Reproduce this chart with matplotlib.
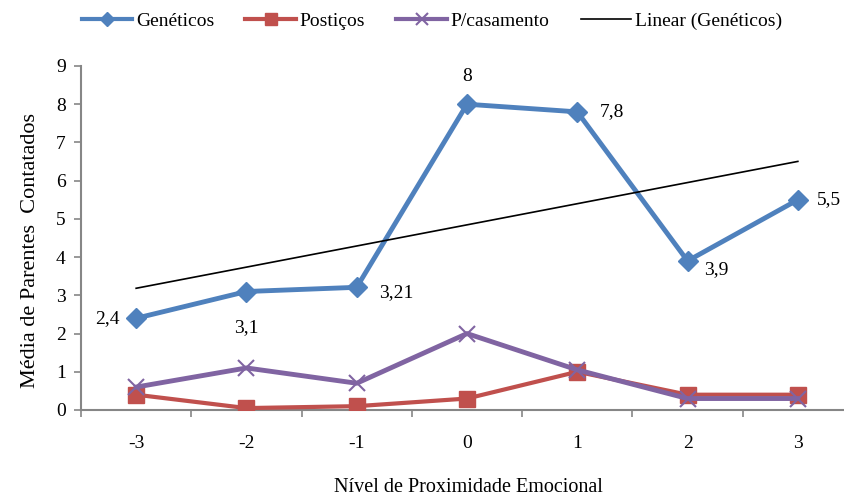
import numpy as np
import matplotlib
matplotlib.use("Agg")
import matplotlib.pyplot as plt
from matplotlib.lines import Line2D

plt.rcParams['font.family'] = ['Liberation Serif', 'DejaVu Serif']

niveis = [-3, -2, -1, 0, 1, 2, 3]
geneticos = [2.4, 3.1, 3.21, 8, 7.8, 3.9, 5.5]
posticos = [0.4, 0.05, 0.1, 0.3, 1.0, 0.4, 0.4]
casamento = [0.6, 1.1, 0.7, 2.0, 1.05, 0.3, 0.3]
rotulos_gen = ["2,4", "3,1", "3,21", "8", "7,8", "3,9", "5,5"]

azul = "#4F81BD"
vermelho = "#C0504D"
roxo = "#8064A2"
cinza = "#868686"

W, H = 845, 496
fig = plt.figure(figsize=(W / 100, H / 100), dpi=100)
ax = fig.add_axes([81 / W, 86 / H, (853 - 81) / W, 344 / H])

x = np.arange(len(niveis))

ax.plot(x, posticos, color=vermelho, lw=3, marker='s', ms=12, zorder=3,
        solid_joinstyle='round')
ax.plot(x, casamento, color=roxo, lw=3.5, marker='x', ms=12, mew=1.5, zorder=4,
        solid_joinstyle='round')
ax.plot(x, geneticos, color=azul, lw=3.5, marker='D', ms=10, zorder=5,
        solid_joinstyle='round')

# linear trend of the "Genéticos" series
coef = np.polyfit(np.arange(1, 8), geneticos, 1)
tend = np.polyval(coef, np.arange(1, 8))
ax.plot(x, tend, color='black', lw=1.2, zorder=6)

offsets = [(-12, 0, 'right', 'center'),
           (0, -20, 'center', 'top'),
           (16, -4, 'left', 'center'),
           (0, 14, 'center', 'bottom'),
           (16, 0, 'left', 'center'),
           (12, -6, 'left', 'center'),
           (14, 0, 'left', 'center')]
for xi, yi, lab, (dx, dy, ha, va) in zip(x, geneticos, rotulos_gen, offsets):
    ax.annotate(lab, (xi, yi), xytext=(dx, dy), textcoords='offset points',
                ha=ha, va=va, fontsize=14)

ax.set_xlim(-0.5, len(niveis) - 0.5)
ax.set_ylim(0, 9)
ax.set_yticks(range(10))
ax.set_xticks(x)
ax.set_xticklabels([str(n) for n in niveis])
ax.set_xticks(np.arange(-0.5, len(niveis), 1), minor=True)
ax.tick_params(axis='x', which='major', length=0, pad=18, labelsize=14)
ax.tick_params(axis='x', which='minor', length=5, color=cinza, width=1.2)
ax.tick_params(axis='y', length=5, color=cinza, width=1.2, labelsize=14, pad=6)

for s in ['top', 'right']:
    ax.spines[s].set_visible(False)
for s in ['left', 'bottom']:
    ax.spines[s].set_color(cinza)
    ax.spines[s].set_linewidth(1.5)

fig.text(31 / W, 1 - 251 / H, "Média de Parentes  Contatados",
         rotation=90, ha='center', va='center', fontsize=16)
fig.text(468 / W, 1 - 487 / H, "Nível de Proximidade Emocional",
         ha='center', va='center', fontsize=14.5)

handles = [
    Line2D([], [], color=azul, lw=3, marker='D', ms=7),
    Line2D([], [], color=vermelho, lw=3, marker='s', ms=9),
    Line2D([], [], color=roxo, lw=3, marker='x', ms=9, mew=1.5),
    Line2D([], [], color='black', lw=1.2),
]
labels = ["Genéticos", "Postiços", "P/casamento", "Linear (Genéticos)"]
fig.legend(handles, labels, loc='center', bbox_to_anchor=(432 / W, 1 - 21 / H),
           ncol=4, frameon=False, fontsize=14, handlelength=2.6,
           columnspacing=1.6, handletextpad=0.2)

fig.savefig("out.png", dpi=100)
